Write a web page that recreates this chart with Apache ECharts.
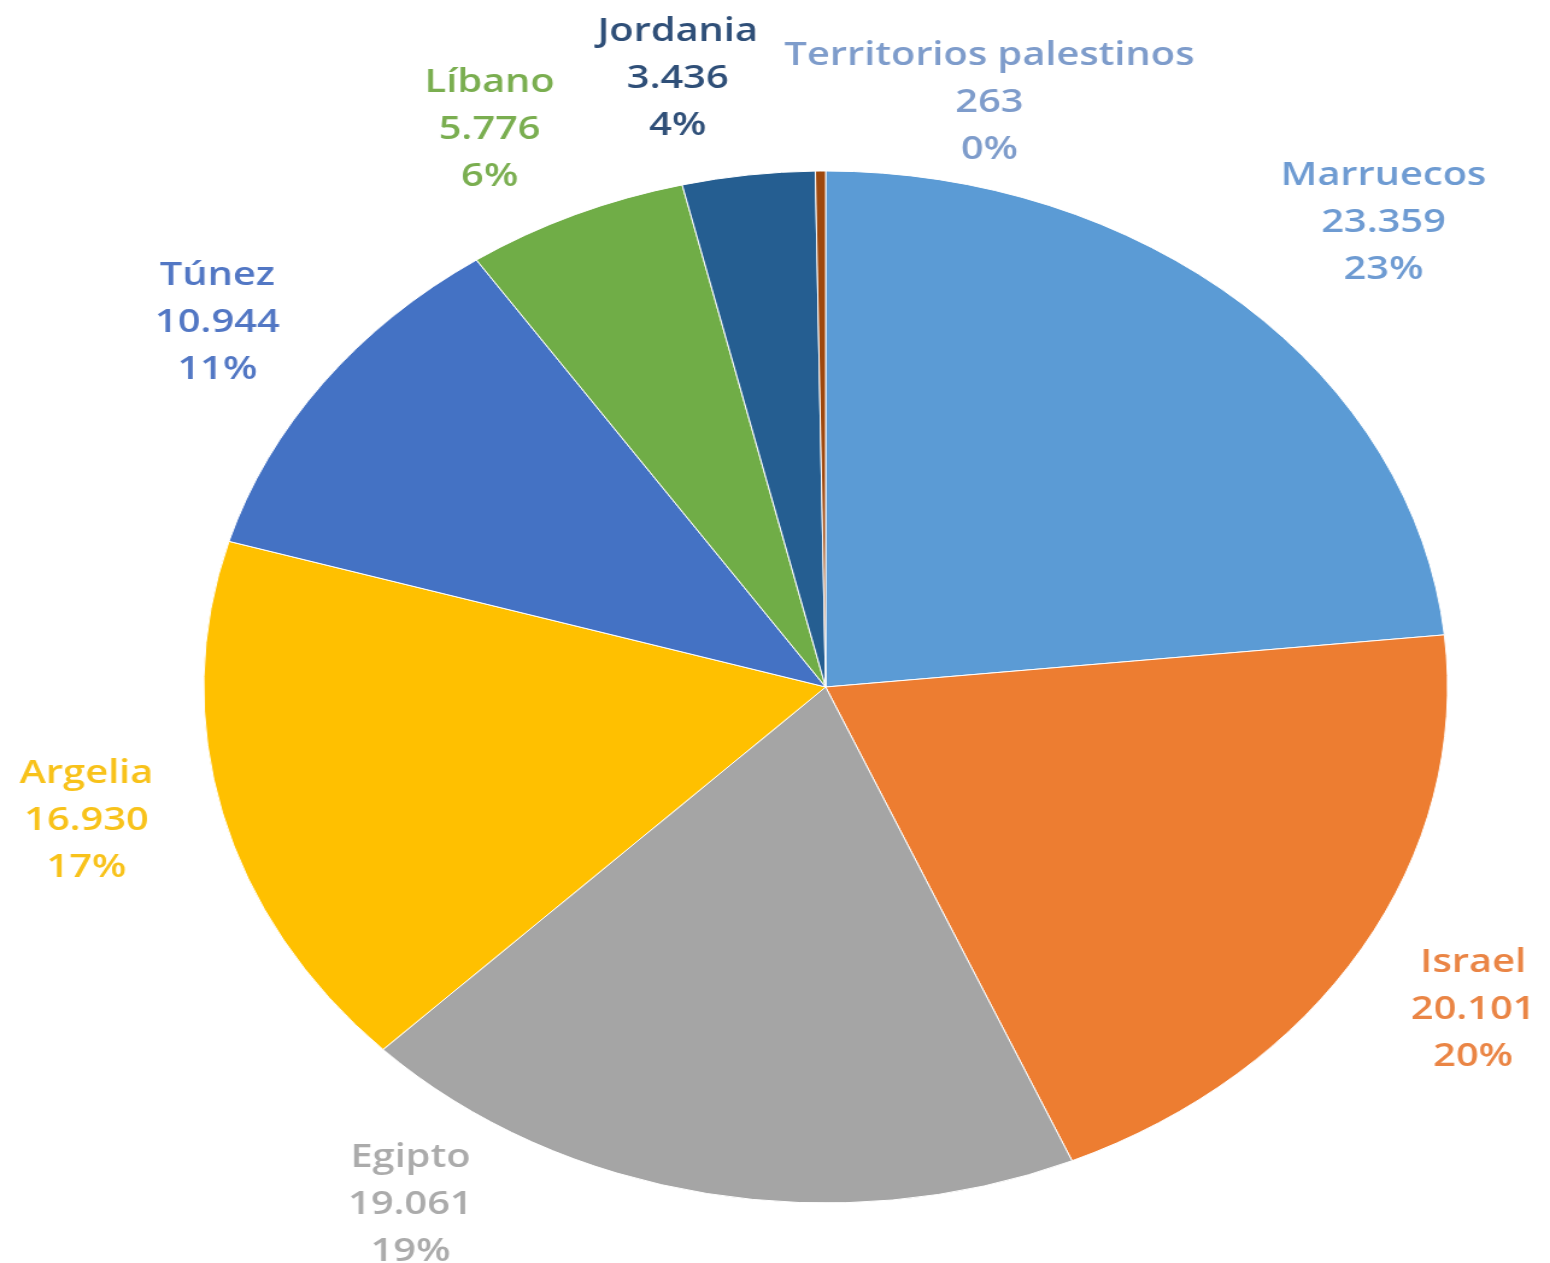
<!DOCTYPE html>
<html>
<head>
<meta charset="utf-8">
<script src="https://cdn.jsdelivr.net/npm/echarts@6/dist/echarts.min.js"></script>
<style>
  html, body { margin: 0; padding: 0; background: #fff; overflow: hidden; }
  /* the original picture is stretched sideways, so the pie is drawn round and widened */
  #chart {
    width: 1286px;
    height: 1263px;
    transform: scaleX(1.2053);
    transform-origin: 0 0;
  }
</style>
</head>
<body>
<div id="chart"></div>
<script>
// datos
const countries = ["Marruecos", "Israel", "Egipto", "Argelia", "Túnez", "Líbano", "Jordania", "Territorios palestinos"];
const values = [23359, 20101, 19061, 16930, 10944, 5776, 3436, 263];
const pctLabels = ["23%", "20%", "19%", "17%", "11%", "6%", "4%", "0%"];

const sliceColors = ["#5B9BD5", "#ED7D31", "#A5A5A5", "#FFC000", "#4472C4", "#70AD47", "#255E91", "#9E480E"];
const labelColors = ["#6E9BD2", "#EA8545", "#ABABAB", "#F8C21A", "#5277C4", "#7AAE50", "#2F4F78", "#7E9CCB"];

// small angle / distance nudges for the labels (Excel "best fit")
const labelAngleNudge = [-2.6, -0.3, -22.8, -2.1, 0.1, 2.7, 4.2, -13.5];
const labelDistNudge = [31, -2, -8, 0, -3, -1, -3, -24];

const cx = 685, cy = 687, R = 516, labelR = 627;

const total = values.reduce((a, b) => a + b, 0);
const midAngles = [];
let acc = 0;
values.forEach((v) => {
  const a0 = (acc / total) * 360;
  acc += v;
  const a1 = (acc / total) * 360;
  midAngles.push(90 - (a0 + a1) / 2); // degrees, counter-clockwise from +x
});

const fmt = (v) => String(v).replace(/\B(?=(\d{3})+(?!\d))/g, ".");

const chart = echarts.init(document.getElementById("chart"));
chart.setOption({
  animation: false,
  series: [
    {
      type: "pie",
      center: [cx, cy],
      radius: [0, R],
      startAngle: 90,
      clockwise: true,
      avoidLabelOverlap: false,
      itemStyle: { borderColor: "#ffffff", borderWidth: 1 },
      label: {
        show: true,
        position: "outside",
        fontFamily: "Open Sans",
        fontWeight: 600,
        fontSize: 33,
        lineHeight: 47,
        align: "center",
        formatter: (p) => p.name + "\n" + fmt(p.value) + "\n" + pctLabels[p.dataIndex],
      },
      labelLine: { show: false },
      labelLayout: (p) => {
        const i = p.dataIndex;
        const ang = ((midAngles[i] + labelAngleNudge[i]) * Math.PI) / 180;
        const d = labelR + labelDistNudge[i];
        return {
          x: cx + d * Math.cos(ang),
          y: cy - d * Math.sin(ang) + 3,
          align: "center",
          verticalAlign: "middle",
        };
      },
      data: countries.map((name, i) => ({
        name: name,
        value: values[i],
        itemStyle: { color: sliceColors[i] },
        label: { color: labelColors[i] },
      })),
    },
  ],
});
</script>
</body>
</html>
